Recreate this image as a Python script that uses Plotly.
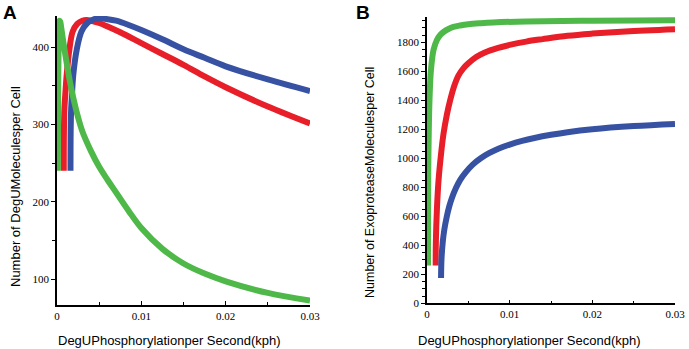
import plotly.graph_objects as go

# ---------------- Data ----------------
# Panel A: DegU molecules per cell vs DegU phosphorylation rate
a_green_x = [0.0001, 0.00012, 0.00016, 0.0002, 0.00025, 0.0003, 0.00038, 0.0005, 0.0007, 0.0009,
             0.0012, 0.0015, 0.002, 0.0025, 0.003, 0.004, 0.005, 0.006, 0.007, 0.0085,
             0.01, 0.0125, 0.015, 0.0175, 0.02, 0.025, 0.03]
a_green_y = [240, 300, 370, 410, 428, 434, 433, 425, 410, 396,
             376, 357, 331, 309, 291, 266, 245, 228, 212, 188,
             166, 139, 120, 107, 97, 82, 72]

a_red_x = [0.0008, 0.00082, 0.00088, 0.00096, 0.00115, 0.00146, 0.00186, 0.0024, 0.003, 0.0035,
           0.0042, 0.005, 0.006, 0.0075, 0.01, 0.0125, 0.015, 0.0175, 0.02, 0.025, 0.03]
a_red_y = [240, 290, 320, 335, 364, 396, 420, 430, 434, 435,
           433.5, 431, 426.5, 419, 405, 391, 377, 362, 348, 323, 301]

a_blue_x = [0.0016, 0.00162, 0.00168, 0.00176, 0.00193, 0.00233, 0.0029, 0.0036, 0.0043, 0.005,
            0.006, 0.007, 0.0085, 0.01, 0.0125, 0.015, 0.0175, 0.02, 0.025, 0.03]
a_blue_y = [240, 290, 320, 335, 364, 396, 420, 431, 435.5, 437,
            436, 434, 428.5, 422, 410, 397, 386, 375, 358, 343]

# Panel B: exoprotease molecules per cell vs DegU phosphorylation rate
b_green_x = [0.00012, 0.00013, 0.00015, 0.0002, 0.0003, 0.00048, 0.0008, 0.0012, 0.0016, 0.002,
             0.0026, 0.0032, 0.004, 0.005, 0.0065, 0.008, 0.012, 0.02, 0.03]
b_green_y = [260, 600, 900, 1130, 1400, 1610, 1750, 1816, 1850, 1871,
             1892, 1906, 1916, 1925, 1932, 1937, 1944, 1949, 1952]

b_red_x = [0.00105, 0.00107, 0.0012, 0.0014, 0.0017, 0.002, 0.0024, 0.0028, 0.0033, 0.0038,
           0.0044, 0.005, 0.006, 0.007, 0.0085, 0.01, 0.012, 0.014, 0.017, 0.02, 0.024, 0.03]
b_red_y = [260, 420, 650, 850, 1030, 1170, 1300, 1400, 1500, 1570,
           1620, 1655, 1700, 1730, 1760, 1782, 1805, 1822, 1845, 1860, 1875, 1890]

b_blue_x = [0.0017, 0.00175, 0.0019, 0.0021, 0.0024, 0.0027, 0.003, 0.0035, 0.004, 0.0047,
            0.0055, 0.0065, 0.0075, 0.0087, 0.01, 0.0115, 0.013, 0.015, 0.017, 0.02, 0.025, 0.03]
b_blue_y = [175, 300, 420, 510, 600, 670, 725, 795, 850, 905,
            955, 1000, 1035, 1068, 1095, 1120, 1140, 1162, 1180, 1200, 1222, 1237]

x_ticks = [0, 0.01, 0.02, 0.03]
x_ticktext = ["0", "0.01", "0.02", "0.03"]
a_yticks = [100, 200, 300, 400]
b_yticks = [0, 200, 400, 600, 800, 1000, 1200, 1400, 1600, 1800]

GREEN = "rgb(78,184,72)"
RED = "rgb(232,30,40)"
BLUE = "rgb(55,82,163)"
LW = 6

# reference picture size, used to convert measured pixel positions to paper fractions
W, H = 689, 349

fig = go.Figure()

def add(x, y, color, xa, ya):
    fig.add_trace(go.Scatter(x=x, y=y, mode="lines", xaxis=xa, yaxis=ya,
                             line=dict(color=color, width=LW, shape="spline", smoothing=1.0),
                             showlegend=False, hoverinfo="skip"))

add(a_red_x, a_red_y, RED, "x", "y")
add(a_blue_x, a_blue_y, BLUE, "x", "y")
add(a_green_x, a_green_y, GREEN, "x", "y")
add(b_red_x, b_red_y, RED, "x2", "y2")
add(b_blue_x, b_blue_y, BLUE, "x2", "y2")
add(b_green_x, b_green_y, GREEN, "x2", "y2")

def px_x(p):
    return p / W

def px_y(p):
    return 1 - p / H

tickfont = dict(family="Liberation Serif, Times New Roman, serif", size=11, color="black")

common_x = dict(range=[0, 0.03], showline=True, linecolor="black", linewidth=1.5,
                showgrid=False, zeroline=False, ticks="inside", ticklen=4, tickwidth=1,
                tickcolor="black", tickvals=x_ticks, ticktext=x_ticktext, tickfont=tickfont,
                minor=dict(dtick=0.005, tick0=0, ticks="inside", ticklen=3, tickcolor="black",
                           showgrid=False),
                fixedrange=True)
common_y = dict(showline=True, linecolor="black", linewidth=1.5, showgrid=False,
                zeroline=False, ticks="outside", ticklen=4, tickwidth=1, tickcolor="black",
                tickfont=tickfont, fixedrange=True)

# Panel A geometry (pixels): x 57..310, y 16..305
a_top, a_bot = 16, 305
a_ppu = (279 - 47) / 300.0
a_ylo = 100 - (a_bot - 279) / a_ppu
a_yhi = 400 + (47 - a_top) / a_ppu

# Panel B geometry: x 427..675, y 17..303.3
b_top, b_bot = 17, 303.3
b_ppu = (303.3 - 42.3) / 1800.0
b_yhi = (b_bot - b_top) / b_ppu

fig.update_layout(
    autosize=True,
    margin=dict(l=0, r=0, t=0, b=0, autoexpand=False),
    paper_bgcolor="white", plot_bgcolor="white",
    font=dict(family="Liberation Serif, Times New Roman, serif", color="black"),
    xaxis=dict(domain=[px_x(57), px_x(310)], anchor="y", **common_x),
    yaxis=dict(domain=[px_y(a_bot), px_y(a_top)], anchor="x", range=[a_ylo, a_yhi],
               tickvals=a_yticks,
               minor=dict(dtick=50, tick0=0, ticks="outside", ticklen=3, tickcolor="black",
                          showgrid=False),
               **common_y),
    xaxis2=dict(domain=[px_x(427), px_x(675)], anchor="y2", **common_x),
    yaxis2=dict(domain=[px_y(b_bot), px_y(b_top)], anchor="x2", range=[0, b_yhi],
                tickvals=b_yticks,
                minor=dict(dtick=50, tick0=0, ticks="outside", ticklen=3, tickcolor="black",
                           showgrid=False),
                **common_y),
)

title_font = dict(family="Liberation Sans, Arial, sans-serif", size=13, color="black")
ann = [
    dict(text="A", x=px_x(1), y=px_y(0), xanchor="left", yanchor="top",
         font=dict(family="Liberation Sans, Arial, sans-serif", size=19, color="black",
                   weight="bold")),
    dict(text="B", x=px_x(354), y=px_y(0), xanchor="left", yanchor="top",
         font=dict(family="Liberation Sans, Arial, sans-serif", size=19, color="black",
                   weight="bold")),
    dict(text="Number of DegUMoleculesper Cell", x=px_x(15), y=px_y(187),
         xanchor="center", yanchor="middle", textangle=-90, font=title_font),
    dict(text="Number of ExoproteaseMoleculesper Cell", x=px_x(370), y=px_y(183),
         xanchor="center", yanchor="middle", textangle=-90,
         font=dict(family="Liberation Sans, Arial, sans-serif", size=12.5, color="black")),
    dict(text="DegUPhosphorylationper Second(kph)", x=px_x(169), y=px_y(340),
         xanchor="center", yanchor="middle", font=title_font),
    dict(text="DegUPhosphorylationper Second(kph)", x=px_x(529), y=px_y(340),
         xanchor="center", yanchor="middle", font=title_font),
]
for a in ann:
    a.update(xref="paper", yref="paper", showarrow=False)
fig.update_layout(annotations=ann)

fig.write_html("out.html",
               default_width="100vw", default_height="100vh",
               config={"displayModeBar": False, "responsive": True},
               post_script="document.body.style.margin='0';"
                           "document.body.style.overflow='hidden';")
